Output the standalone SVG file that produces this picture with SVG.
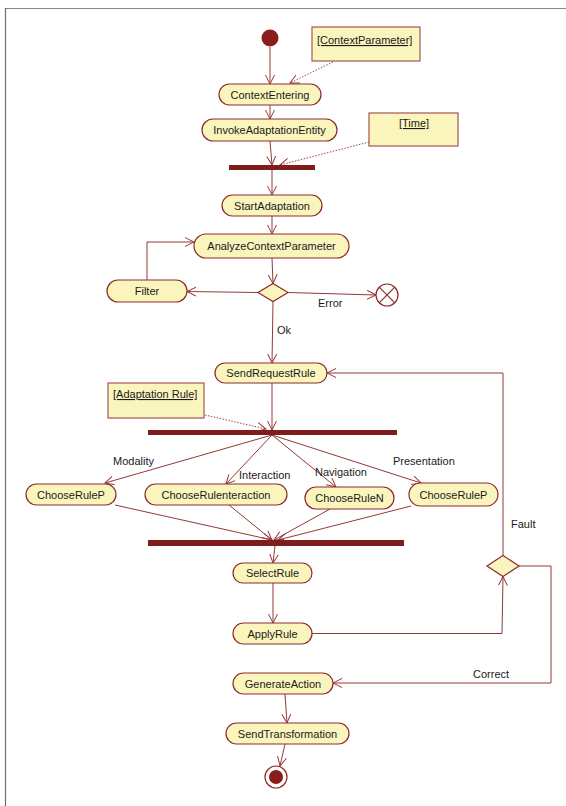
<svg xmlns="http://www.w3.org/2000/svg" width="566" height="806" viewBox="0 0 566 806">
<defs>
<marker id="arr" markerUnits="userSpaceOnUse" markerWidth="12" markerHeight="12" refX="9" refY="5" orient="auto">
<path d="M0,0.5 L9,5 L0,9.5" fill="none" stroke="#963838" stroke-width="1"/>
</marker>
<style>
.n rect{fill:#faf5bd;stroke:#8e2a2a;stroke-width:1.2}
.t{font-family:"Liberation Sans",Arial,sans-serif;font-size:11px;fill:#1a1a1a}
.c{text-anchor:middle}
.e path,.e line,.e polyline{fill:none;stroke:#963838;stroke-width:1;marker-end:url(#arr)}
.e .d{stroke-dasharray:1.5,1.5;stroke:#a04848}
.note rect{fill:#faf5bd;stroke:#a65454;stroke-width:1.2}
.bar{fill:#7f1d1d}
</style>
</defs>
<rect width="566" height="806" fill="#fff"/>
<line x1="5" y1="8.5" x2="566" y2="8.5" stroke="#8a8a8a" stroke-width="1.2"/>
<line x1="5.5" y1="8" x2="5.5" y2="806" stroke="#6e6e6e" stroke-width="1.2"/>

<g id="connectors" class="e">
<line x1="270" y1="47" x2="270" y2="84"/>
<line x1="270" y1="105" x2="270" y2="119"/>
<line x1="270" y1="141" x2="272" y2="165"/>
<line class="d" x1="333" y1="62" x2="290" y2="83"/>
<line class="d" x1="369" y1="142" x2="280" y2="165"/>
<line x1="272" y1="170" x2="272" y2="195"/>
<line x1="272" y1="216" x2="272" y2="234"/>
<polyline points="147,280 147,242 194,242"/>
<line x1="272" y1="258" x2="273" y2="283.5"/>
<line x1="258" y1="292.5" x2="187" y2="291.5"/>
<line x1="288" y1="292.5" x2="376" y2="295"/>
<line x1="273" y1="301.5" x2="272" y2="363"/>
<line x1="272" y1="383" x2="272" y2="430"/>
<line class="d" x1="205" y1="415" x2="266" y2="429"/>
<line x1="272" y1="435" x2="105" y2="483"/>
<line x1="272" y1="435" x2="226" y2="484"/>
<line x1="272" y1="435" x2="336" y2="487"/>
<line x1="272" y1="435" x2="421" y2="483"/>
<line x1="115" y1="505" x2="272" y2="540"/>
<line x1="229" y1="505" x2="272" y2="540"/>
<line x1="330" y1="509" x2="274" y2="540"/>
<line x1="411" y1="506" x2="278" y2="540"/>
<line x1="275" y1="546" x2="273" y2="563"/>
<line x1="273" y1="583" x2="273" y2="623"/>
<polyline points="312,633.5 502,633.5 503,576.5"/>
<polyline points="503,555.5 503,373 327,373"/>
<polyline points="519,566 551,566 551,683 333,683"/>
<line x1="285" y1="694" x2="287" y2="723"/>
<line x1="285" y1="744" x2="280" y2="766"/>
</g>

<g id="labels" class="t">
<text x="318" y="307">Error</text>
<text x="277" y="334">Ok</text>
<text x="113" y="465">Modality</text>
<text x="239" y="479">Interaction</text>
<text x="315" y="476">Navigation</text>
<text x="393" y="465">Presentation</text>
<text x="511" y="528">Fault</text>
<text x="473" y="678">Correct</text>
</g>

<g id="start"><circle cx="270" cy="38" r="8.5" fill="#8b1c1c"/></g>

<g id="noteContextParameter" class="note"><rect x="312" y="27" width="108" height="34"/><text class="t" x="317" y="44" text-decoration="underline">[ContextParameter]</text></g>
<g id="noteTime" class="note"><rect x="369" y="113" width="89" height="33"/><text class="t" x="399" y="127" text-decoration="underline">[Time]</text></g>
<g id="noteAdaptationRule" class="note"><rect x="108" y="383" width="96" height="35"/><text class="t" x="113" y="398" text-decoration="underline">[Adaptation Rule]</text></g>

<g id="ContextEntering" class="n"><rect x="219" y="84" width="102" height="21" rx="10.5"/><text class="t c" x="270" y="98.5">ContextEntering</text></g>
<g id="InvokeAdaptationEntity" class="n"><rect x="202" y="119" width="135" height="22" rx="11"/><text class="t c" x="269.5" y="134">InvokeAdaptationEntity</text></g>
<g id="fork1"><rect class="bar" x="229" y="165" width="86" height="5"/></g>
<g id="StartAdaptation" class="n"><rect x="222" y="195" width="100" height="21" rx="10.5"/><text class="t c" x="272" y="209.5">StartAdaptation</text></g>
<g id="AnalyzeContextParameter" class="n"><rect x="194" y="234" width="155" height="24" rx="12"/><text class="t c" x="271.5" y="250">AnalyzeContextParameter</text></g>
<g id="Filter" class="n"><rect x="107" y="280" width="80" height="22" rx="11"/><text class="t c" x="147" y="295">Filter</text></g>
<g id="decision1"><polygon points="273,283.5 288,292.5 273,301.5 258,292.5" fill="#faf5bd" stroke="#8e2a2a" stroke-width="1.2"/></g>
<g id="flowFinal"><circle cx="387" cy="295" r="11" fill="#fff" stroke="#8e2a2a" stroke-width="1.2"/><path d="M379.2,287.2 L394.8,302.8 M394.8,287.2 L379.2,302.8" stroke="#8e2a2a" stroke-width="1.2"/></g>
<g id="SendRequestRule" class="n"><rect x="215" y="363" width="112" height="20" rx="10"/><text class="t c" x="271" y="377">SendRequestRule</text></g>
<g id="fork2"><rect class="bar" x="148" y="430" width="249" height="5"/></g>
<g id="ChooseRuleP1" class="n"><rect x="26" y="484" width="90" height="21" rx="10.5"/><text class="t c" x="71" y="498.5">ChooseRuleP</text></g>
<g id="ChooseRuleInteraction" class="n"><rect x="145" y="484" width="142" height="21" rx="10.5"/><text class="t c" x="216" y="498.5">ChooseRulenteraction</text></g>
<g id="ChooseRuleN" class="n"><rect x="305" y="487" width="89" height="22" rx="11"/><text class="t c" x="349.5" y="502">ChooseRuleN</text></g>
<g id="ChooseRuleP2" class="n"><rect x="409" y="483" width="89" height="23" rx="11.5"/><text class="t c" x="453.5" y="498.5">ChooseRuleP</text></g>
<g id="join"><rect class="bar" x="148" y="540" width="256" height="6"/></g>
<g id="SelectRule" class="n"><rect x="233" y="563" width="79" height="20" rx="10"/><text class="t c" x="272.5" y="577">SelectRule</text></g>
<g id="ApplyRule" class="n"><rect x="233" y="623" width="79" height="21" rx="10.5"/><text class="t c" x="272.5" y="637.5">ApplyRule</text></g>
<g id="decision2"><polygon points="503,555.5 519,566 503,576.5 487,566" fill="#faf5bd" stroke="#8e2a2a" stroke-width="1.2"/></g>
<g id="GenerateAction" class="n"><rect x="233" y="673" width="100" height="21" rx="10.5"/><text class="t c" x="283" y="687.5">GenerateAction</text></g>
<g id="SendTransformation" class="n"><rect x="226" y="723" width="123" height="21" rx="10.5"/><text class="t c" x="287.5" y="737.5">SendTransformation</text></g>
<g id="final"><circle cx="276" cy="777" r="11" fill="#fff" stroke="#8e2a2a" stroke-width="1.2"/><circle cx="276" cy="777" r="7" fill="#8b1c1c"/></g>
</svg>
